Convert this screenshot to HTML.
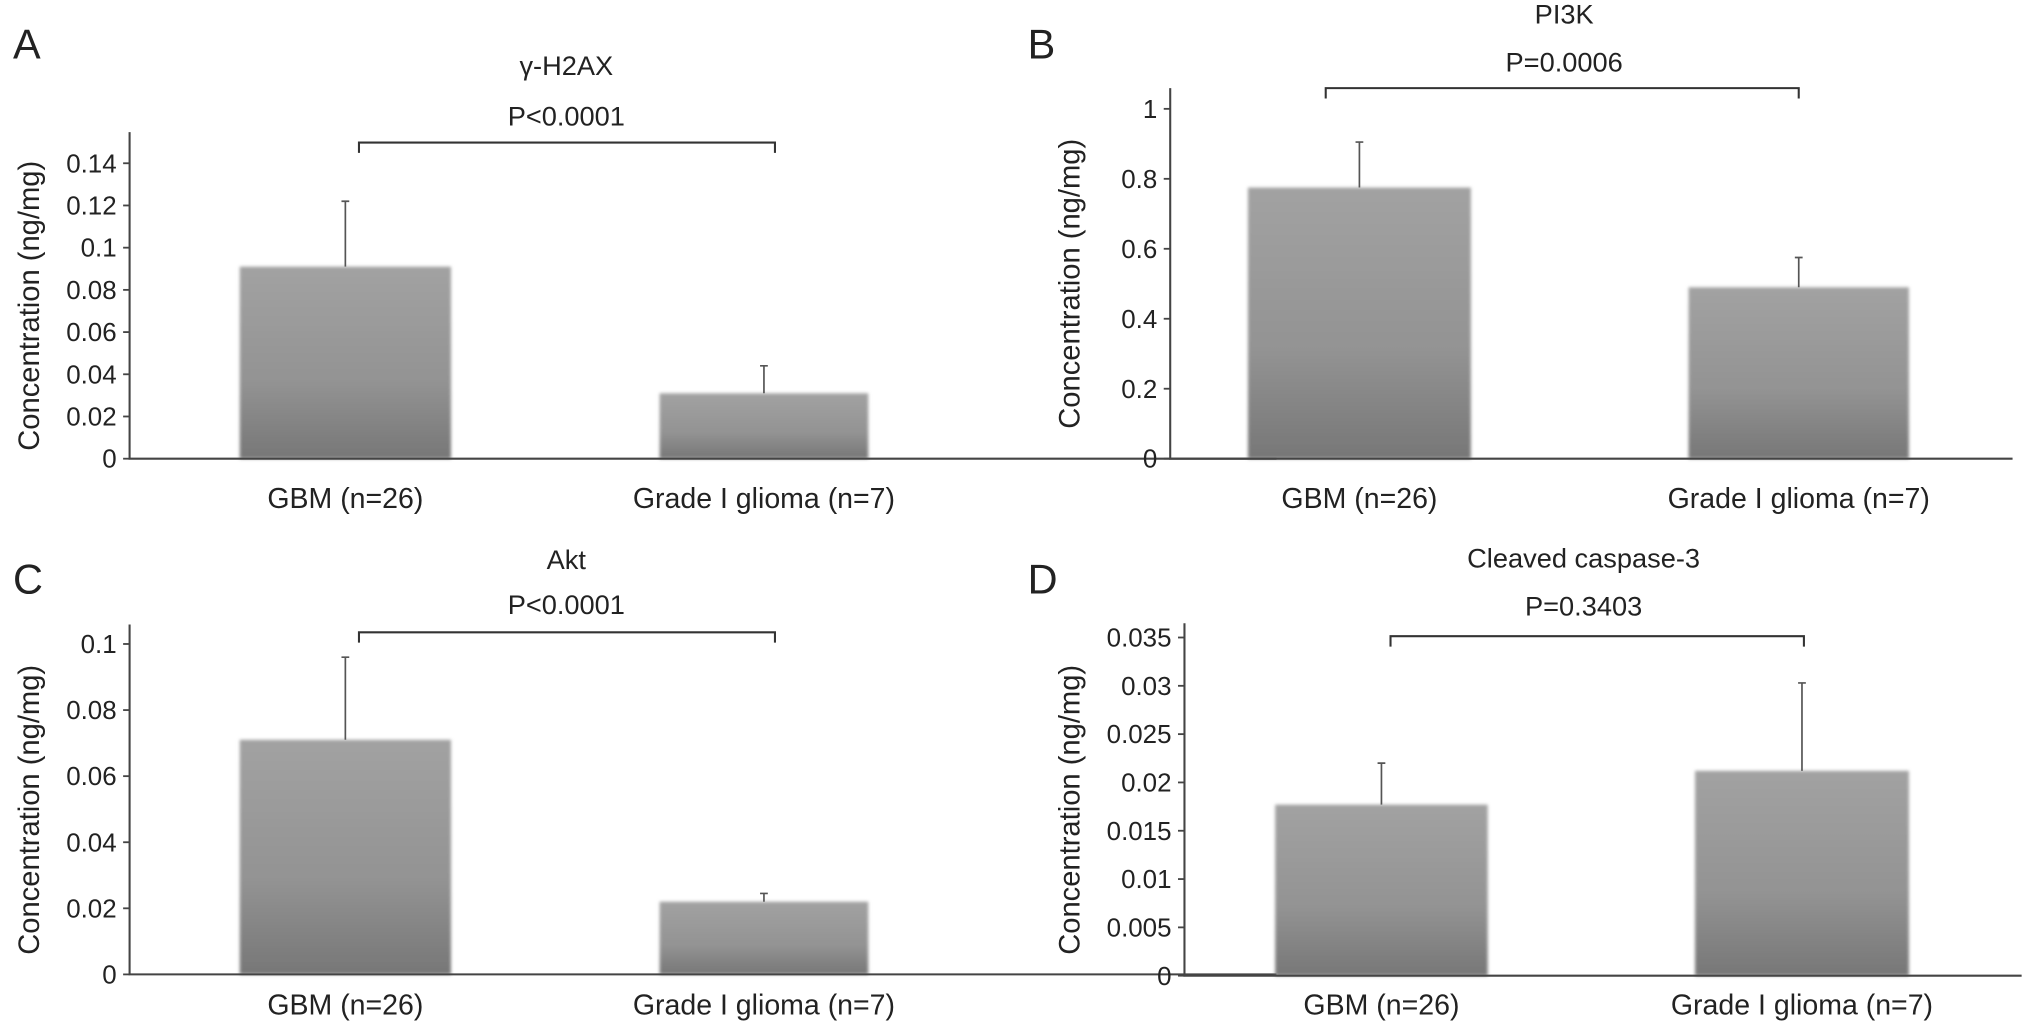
<!DOCTYPE html>
<html><head><meta charset="utf-8"><style>
html,body{margin:0;padding:0;background:#fff;}
svg{display:block;}
text{font-family:"Liberation Sans Narrow","Liberation Sans",sans-serif;fill:#222;}
</style></head><body>
<svg id="fig" width="2032" height="1034" viewBox="0 0 1568 798" preserveAspectRatio="none" xmlns="http://www.w3.org/2000/svg">
<defs>
<linearGradient id="barg" x1="0" y1="0" x2="0" y2="1">
<stop offset="0" stop-color="#a2a2a2"/><stop offset="0.6" stop-color="#939393"/><stop offset="1" stop-color="#777"/>
</linearGradient>
<filter id="blur" x="-5%" y="-5%" width="110%" height="110%"><feGaussianBlur stdDeviation="1.2"/></filter>
</defs>
</svg>
<script>
const categories = ["GBM (n=26)", "Grade I glioma (n=7)"];
const panelLetters = ["A", "B", "C", "D"];
const panelTitles = ["\u03b3-H2AX", "PI3K", "Akt", "Cleaved caspase-3"];
const pValues = ["P<0.0001", "P=0.0006", "P<0.0001", "P=0.3403"];
const meansA = [0.091, 0.031];
const errorsA = [0.122, 0.044];
const meansB = [0.775, 0.49];
const errorsB = [0.905, 0.575];
const meansC = [0.071, 0.022];
const errorsC = [0.096, 0.0245];
const meansD = [0.0177, 0.0212];
const errorsD = [0.022, 0.0303];
const ticksA = ["0","0.02","0.04","0.06","0.08","0.1","0.12","0.14"];
const ticksB = ["0","0.2","0.4","0.6","0.8","1"];
const ticksC = ["0","0.02","0.04","0.06","0.08","0.1"];
const ticksD = ["0","0.005","0.01","0.015","0.02","0.025","0.03","0.035"];

const svg = document.getElementById('fig');
const NS = "http://www.w3.org/2000/svg";
function mk(tag, attrs, parent){const e=document.createElementNS(NS,tag);for(const k in attrs)e.setAttribute(k,attrs[k]);(parent||svg).appendChild(e);return e;}

const layouts = [
 {ax:100, bottom:354, top:102, right:985, maxTick:0.14, maxY:126, bars:[[185,348],[509,670]], brY:110, brX:[277,598], titleY:58, pY:97, cx:437, labY:392, letter:[10,45], ylab:22},
 {ax:903, bottom:354, top:68, right:1553, maxTick:1, maxY:84, bars:[[963,1135],[1303,1473]], brY:68, brX:[1023,1388], titleY:18, pY:55, cx:1207, labY:392, letter:[793,45], ylab:825},
 {ax:100, bottom:752, top:482, right:985, maxTick:0.1, maxY:497, bars:[[185,348],[509,670]], brY:488, brX:[277,598], titleY:439, pY:474, cx:437, labY:783, letter:[10,458], ylab:22},
 {ax:914, bottom:753, top:481, right:1560, maxTick:0.035, maxY:492, bars:[[984,1148],[1308,1473]], brY:491, brX:[1073,1392], titleY:438, pY:475, cx:1222, labY:783, letter:[793,458], ylab:825}
];
const means=[meansA,meansB,meansC,meansD], errs=[errorsA,errorsB,errorsC,errorsD], ticks=[ticksA,ticksB,ticksC,ticksD];

layouts.forEach((L,i)=>{
  const g = mk('g',{});
  
  
  const y = v => L.bottom - (v / L.maxTick) * (L.bottom - L.maxY);
  let t = mk('text',{x:L.letter[0],y:L.letter[1],'font-size':32},g); t.textContent=panelLetters[i];
  
  
  t = mk('text',{x:L.cx,y:L.titleY,'font-size':21,'text-anchor':'middle'},g); t.textContent=panelTitles[i];
  
  
  t = mk('text',{x:L.cx,y:L.pY,'font-size':21,'text-anchor':'middle'},g); t.textContent=pValues[i];
  
  
  const br = mk('path',{d:`M${L.brX[0]} ${L.brY+8}V${L.brY}H${L.brX[1]}V${L.brY+8}`,stroke:'#333','stroke-width':1.6,fill:'none'},g);
  
  
  const ly=(L.top+L.bottom)/2 + 8;
  t = mk('text',{x:L.ylab,y:ly,'font-size':22.5,'text-anchor':'middle','font-family':'Liberation Sans, sans-serif',transform:`rotate(-90 ${L.ylab} ${ly}) translate(0 8)`},g);
  t.textContent='Concentration (ng/mg)';
  
  
  means[i].forEach((m,j)=>{
    const [x0,x1]=L.bars[j];
    const b = mk('rect',{x:x0,y:y(m),width:x1-x0,height:L.bottom-y(m),fill:'url(#barg)',filter:'url(#blur)'},g);
    
    
    const cx=(x0+x1)/2, ye=y(errs[i][j]);
    const e = mk('path',{d:`M${cx} ${y(m)}V${ye}M${cx-3} ${ye}H${cx+3}`,stroke:'#555','stroke-width':1.3,fill:'none'},g);
    
    
    t = mk('text',{x:cx,y:L.labY,'font-size':22,'text-anchor':'middle'},g); t.textContent=categories[j];
    
    
  });
  const ax = mk('path',{d:`M${L.ax} ${L.top}V${L.bottom}H${L.right}`,stroke:'#444','stroke-width':1.6,fill:'none'},g);
  
  
  const step = L.maxTick/(ticks[i].length-1);
  ticks[i].forEach((lab,k)=>{
    const ty=y(k*step);
    mk('line',{x1:L.ax-5,x2:L.ax,y1:ty,y2:ty,stroke:'#444','stroke-width':1.4},g);
    const tt = mk('text',{x:L.ax-10,y:ty+7,'font-size':20,'text-anchor':'end'},g); tt.textContent=lab;
    
    
  });
});
</script>
</body></html>
